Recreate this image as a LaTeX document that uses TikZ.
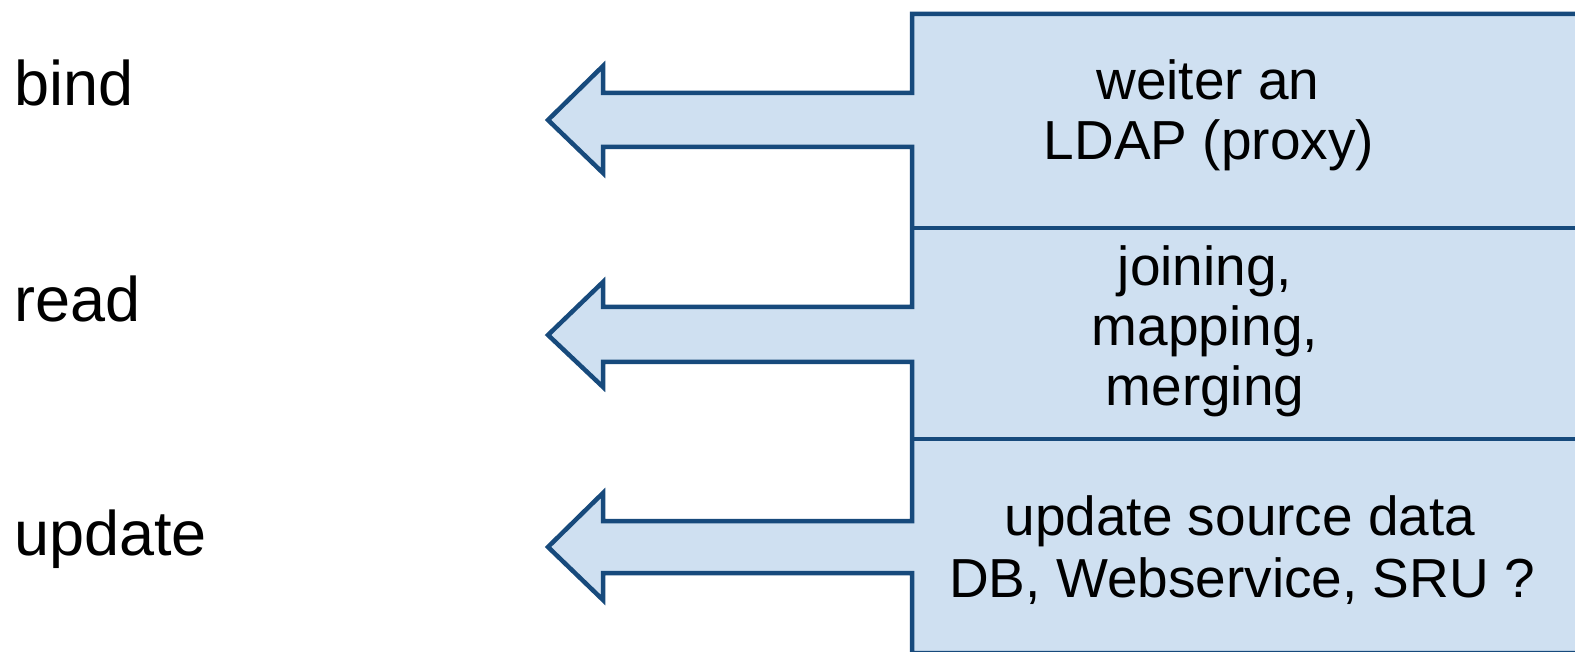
\documentclass[tikz,border=0pt]{standalone}
\usepackage{fontspec}
\setmainfont{Liberation Sans}
\definecolor{edge}{HTML}{174A7C}
\definecolor{boxfill}{HTML}{CFE0F1}
\begin{document}
\begin{tikzpicture}[x=1pt,y=-1pt,
  outline/.style={draw=edge,fill=boxfill,line width=4.5pt,line join=miter},
  divider/.style={draw=edge,line width=4.5pt},
  lbl/.style={anchor=base west,inner sep=0pt,font=\fontsize{63}{72}\selectfont},
  boxtxt/.style={anchor=base,inner sep=0pt,font=\fontsize{55}{64}\selectfont}]
\useasboundingbox (0,0) rectangle (1575,652);
% combined box and arrows outline
\path[outline] (1590,14) -- (912,14)
  -- (912,93) -- (603,93) -- (603,66) -- (548,120) -- (603,173) -- (603,147) -- (912,147)
  -- (912,307) -- (603,307) -- (603,282) -- (548,335) -- (603,387) -- (603,362) -- (912,362)
  -- (912,521) -- (603,521) -- (603,493) -- (548,547) -- (603,600) -- (603,573) -- (912,573)
  -- (912,653) -- (1590,653) -- cycle;
\coordinate (d1l) at (912,228); \coordinate (d1r) at (1590,228);
\coordinate (d2l) at (912,439); \coordinate (d2r) at (1590,439);
\draw[divider] (d1l) -- (d1r);
\draw[divider] (d2l) -- (d2r);
% left labels
\node[lbl] (bind) at (14,106) {bind};
\node[lbl] (read) at (14,322) {read};
\node[lbl] (update) at (14,555) {update};
% box texts
\node[boxtxt] (t1a) at (1208,100) {weiter an};
\node[boxtxt] (t1b) at (1209,160) {LDAP (proxy)};
\node[boxtxt] (t2a) at (1205,286) {joining,};
\node[boxtxt] (t2b) at (1205,346) {mapping,};
\node[boxtxt] (t2c) at (1205,405) {merging};
\node[boxtxt] (t3a) at (1240,535) {update source data};
\node[boxtxt] (t3b) at (1242,597) {DB, Webservice, SRU ?};
\end{tikzpicture}
\end{document}
